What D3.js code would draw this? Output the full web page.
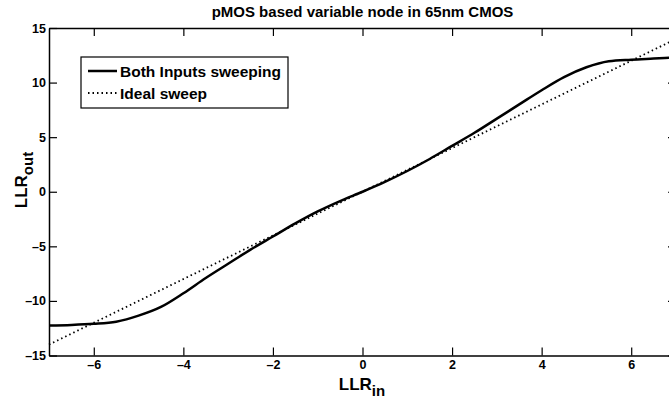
<!DOCTYPE html>
<html>
<head>
<meta charset="utf-8">
<script src="https://cdn.jsdelivr.net/npm/d3@7"></script>
<style>
  body { margin: 0; background: #fff; }
  text { font-family: "Liberation Sans", Arial, sans-serif; font-weight: bold; fill: #000; }
</style>
</head>
<body>
<div id="chart"></div>
<script>
var sweepX = [-7, -6.5, -6, -5.5, -5, -4.5, -4, -3.5, -3, -2.5, -2, -1.5, -1, -0.5, 0,
              0.5, 1, 1.5, 2, 2.5, 3, 3.5, 4, 4.5, 5, 5.5, 6, 6.5, 7];
var sweepY = [-12.25, -12.2, -12.1, -11.9, -11.35, -10.55, -9.3, -7.9, -6.6, -5.3, -4.1, -2.9, -1.8, -0.85, 0,
              0.9, 1.9, 3.0, 4.2, 5.4, 6.7, 8.0, 9.3, 10.5, 11.4, 11.95, 12.1, 12.2, 12.3];
var idealX = [-7, 7];
var idealY = [-14, 14];
var xTicks = [-6, -4, -2, 0, 2, 4, 6];
var yTicks = [-15, -10, -5, 0, 5, 10, 15];
var legendLabels = ["Both Inputs sweeping", "Ideal sweep"];

var W = 669, H = 401;
var m = {left: 49, top: 28, right: 676, bottom: 355.5};

var svg = d3.select("#chart").append("svg").attr("width", W).attr("height", H);

var x = d3.scaleLinear().domain([-7, 7]).range([m.left, m.right]);
var y = d3.scaleLinear().domain([-15, 15]).range([m.bottom, m.top]);

function styleAxis(g) {
  g.select(".domain").attr("stroke", "#000").attr("stroke-width", 1.5);
  g.selectAll(".tick line").attr("stroke", "#000").attr("stroke-width", 1.2);
  g.selectAll("text").style("font-size", "12.5px");
}

// bottom / left with labels, top / right mirrored ticks
svg.append("g").attr("transform", "translate(0," + m.bottom + ")")
  .call(d3.axisBottom(x).tickValues(xTicks).tickSizeInner(-8).tickSizeOuter(0).tickPadding(5).tickFormat(d3.format("d")))
  .call(styleAxis);
svg.append("g").attr("transform", "translate(0," + m.top + ")")
  .call(d3.axisTop(x).tickValues(xTicks).tickSizeInner(-8).tickSizeOuter(0).tickFormat(""))
  .call(styleAxis);
svg.append("g").attr("transform", "translate(" + m.left + ",0)")
  .call(d3.axisLeft(y).tickValues(yTicks).tickSizeInner(-8).tickSizeOuter(0).tickPadding(3).tickFormat(d3.format("d")))
  .call(styleAxis);
svg.append("g").attr("transform", "translate(" + m.right + ",0)")
  .call(d3.axisRight(y).tickValues(yTicks).tickSizeInner(-8).tickSizeOuter(0).tickFormat(""))
  .call(styleAxis);

svg.selectAll("text").filter(function() { return this.textContent.charAt(0) === "\u2212"; })
  .text(function() { return "\u2013" + this.textContent.slice(1); });

var line = d3.line().x(function(d) { return x(d[0]); }).y(function(d) { return y(d[1]); }).curve(d3.curveMonotoneX);

svg.append("path")
  .datum(d3.zip(idealX, idealY))
  .attr("d", line)
  .attr("fill", "none").attr("stroke", "#000").attr("stroke-width", 1.8)
  .attr("stroke-dasharray", "1.5,3");

svg.append("path")
  .datum(d3.zip(sweepX, sweepY))
  .attr("d", line)
  .attr("fill", "none").attr("stroke", "#000").attr("stroke-width", 2.5);

// title + axis labels
svg.append("text").attr("x", (m.left + m.right) / 2).attr("y", 17)
  .attr("text-anchor", "middle").style("font-size", "15px")
  .text("pMOS based variable node in 65nm CMOS");

var xl = svg.append("text").attr("x", 362).attr("y", 390).attr("text-anchor", "middle").style("font-size", "17px");
xl.append("tspan").text("LLR");
xl.append("tspan").attr("dy", 6).style("font-size", "15px").text("in");

var yl = svg.append("text").attr("transform", "translate(27,180) rotate(-90)").attr("text-anchor", "middle").style("font-size", "17px");
yl.append("tspan").text("LLR");
yl.append("tspan").attr("dy", 6).style("font-size", "15px").text("out");

// legend
var lg = svg.append("g").attr("transform", "translate(81,57)");
lg.append("rect").attr("width", 207).attr("height", 51)
  .attr("fill", "#fff").attr("stroke", "#000").attr("stroke-width", 1.2);
lg.selectAll("line.key").data(legendLabels).enter().append("line")
  .attr("x1", 7).attr("x2", 36)
  .attr("y1", function(d, i) { return 14 + i * 22; }).attr("y2", function(d, i) { return 14 + i * 22; })
  .attr("stroke", "#000")
  .attr("stroke-width", function(d, i) { return i === 0 ? 2.5 : 1.8; })
  .attr("stroke-dasharray", function(d, i) { return i === 0 ? null : "1.5,3"; });
lg.selectAll("text.key").data(legendLabels).enter().append("text")
  .attr("x", 39).attr("y", function(d, i) { return 19.5 + i * 22; })
  .style("font-size", "15.5px").text(function(d) { return d; });
</script>
</body>
</html>
